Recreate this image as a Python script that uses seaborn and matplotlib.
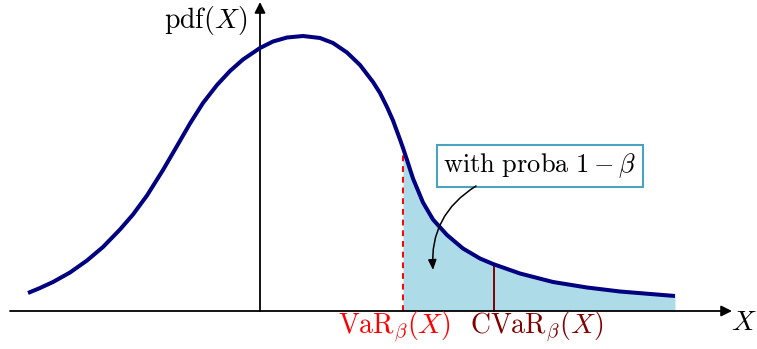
import numpy as np
import matplotlib
matplotlib.use('Agg')
import matplotlib.pyplot as plt
import seaborn as sns

# =============================
# DATA
# =============================
x_pts = [-4.64, -4.40, -4.14, -3.80, -3.46, -3.14, -2.80, -2.54, -2.26, -1.94,
         -1.66, -1.40, -1.14, -0.86, -0.60, -0.34, 0.00, 0.26, 0.54, 0.86,
         1.20, 1.46, 1.74, 2.00, 2.26, 2.40, 2.54, 2.66, 2.80, 2.86,
         2.94, 3.06, 3.26, 3.46, 3.74, 4.06, 4.40, 4.66, 5.20, 5.86,
         6.54, 7.20, 8.30]
pdf_pts = [0.36, 0.46, 0.58, 0.77, 1.01, 1.28, 1.63, 1.93, 2.31, 2.82,
           3.30, 3.75, 4.16, 4.52, 4.80, 5.03, 5.26, 5.39, 5.47, 5.50,
           5.46, 5.36, 5.17, 4.92, 4.58, 4.36, 4.08, 3.81, 3.43, 3.26,
           3.02, 2.65, 2.17, 1.83, 1.52, 1.25, 1.05, 0.94, 0.75, 0.58,
           0.47, 0.39, 0.30]
var_x = 2.86
cvar_x = 4.68

x_arr = np.array(x_pts)
y_arr = np.array(pdf_pts)

# =============================
# STYLE
# =============================
sns.set_style('white')
plt.rcParams['mathtext.fontset'] = 'cm'
plt.rcParams['font.family'] = ['DejaVu Serif']
plt.rcParams['text.color'] = 'black'

fig = plt.figure(figsize=(7.57, 3.49), dpi=100)
ax = fig.add_axes([0, 0, 1, 1])
ax.set_xlim(-5.2, 9.94)
ax.set_ylim(-0.76, 6.22)
ax.axis('off')

# tail area
tail = x_arr >= var_x
ax.fill_between(x_arr[tail], 0, y_arr[tail], color='#ADDCE8', lw=0, zorder=1)

# axes with arrows
arrow_kw = dict(arrowstyle='-|>', color='black', lw=1.3, mutation_scale=16,
                shrinkA=0, shrinkB=0)
ax.annotate('', xy=(9.44, 0), xytext=(-5.0, 0), arrowprops=arrow_kw, zorder=3)
ax.annotate('', xy=(0, 6.18), xytext=(0, 0), arrowprops=arrow_kw, zorder=3)

# VaR / CVaR markers
var_h = np.interp(var_x, x_arr, y_arr)
cvar_h = np.interp(cvar_x, x_arr, y_arr)
ax.plot([var_x, var_x], [0, var_h], color='red', lw=1.4, ls=(0, (3, 2.5)), zorder=2)
ax.plot([cvar_x, cvar_x], [0, cvar_h], color='#800000', lw=1.4, zorder=2)

# pdf curve
sns.lineplot(x=x_pts, y=pdf_pts, color='navy', lw=2.9, sort=False, ax=ax,
             zorder=4, solid_capstyle='butt', solid_joinstyle='round')

# labels
fs = 20
ax.text(-0.26, 5.80, r'$\mathrm{pdf}(X)$', fontsize=fs, ha='right', va='center')
ax.text(9.68, -0.24, r'$X$', fontsize=fs, ha='center', va='center')
ax.text(2.7, -0.33, r'$\mathrm{VaR}_\beta(X)$', fontsize=fs, color='red',
        ha='center', va='center')
ax.text(5.54, -0.33, r'$\mathrm{CVaR}_\beta(X)$', fontsize=fs, color='#800000',
        ha='center', va='center')

# annotation box with curved arrow
ax.text(5.6, 2.9, r'$\mathrm{with\ proba}\ 1-\beta$', fontsize=19,
        ha='center', va='center', zorder=5,
        bbox=dict(boxstyle='square,pad=0.25', fc='white', ec='#4BA3BF', lw=1.5))
ax.annotate('', xy=(3.46, 0.82), xytext=(4.32, 2.5), zorder=5,
            arrowprops=dict(arrowstyle='-|>,head_length=0.6,head_width=0.25',
                            color='black', lw=1.1, shrinkA=0, shrinkB=0,
                            connectionstyle='arc3,rad=0.3'))

plt.savefig('out.png', dpi=100)
plt.close()
